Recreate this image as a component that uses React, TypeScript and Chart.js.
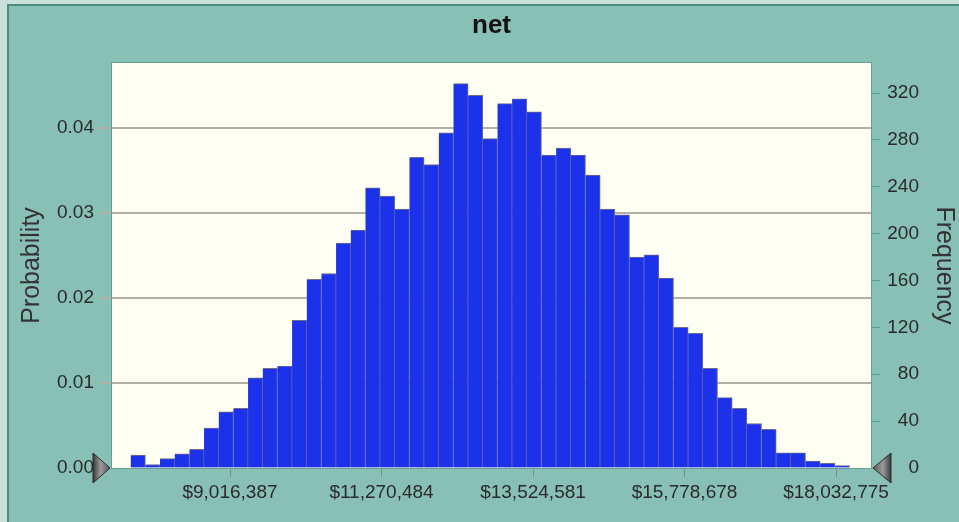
import React, { useEffect, useRef } from 'react';
import { Chart, registerables } from 'chart.js';

Chart.register(...registerables);

const chartTitle = 'net';
const leftAxisTitle = 'Probability';
const rightAxisTitle = 'Frequency';

// histogram bins (lower edge of first bin and bin width, in $)
const binStart = 7538990;
const binWidth = 218270;

// frequency of each bin
const frequencies = [
  11, 3, 8, 12, 16, 34, 48, 51, 77, 85,
  87, 126, 161, 166, 192, 203, 239, 232, 221, 265,
  259, 286, 328, 318, 281, 311, 315, 304, 267, 273,
  267, 250, 221, 216, 180, 182, 162, 120, 115, 85,
  60, 51, 38, 33, 13, 13, 6, 4, 2,
];

const xTickValues = [9016387, 11270484, 13524581, 15778678, 18032775];
const xRange = [7260700, 18553500];
const probabilityRange = [0, 0.0476];
const probabilityStep = 0.01;
const frequencyRange = [0, 345.6];
const frequencyStep = 40;

const FONT = "'Liberation Sans', Arial, sans-serif";
const TEXT = '#2a2a2a';

export default function App() {
  const ref = useRef<HTMLCanvasElement>(null);

  useEffect(() => {
    const canvas = ref.current;
    if (!canvas) return;

    const data = frequencies.map((f, i) => ({ x: binStart + binWidth * (i + 0.5), y: f }));

    const framePlugin = {
      id: 'frame',
      beforeDraw(chart: any) {
        const { ctx, width, height, chartArea: a } = chart;
        ctx.save();
        ctx.fillStyle = '#C9DFDA';
        ctx.fillRect(0, 0, width, height);
        ctx.fillStyle = '#4F8C80';
        ctx.fillRect(7, 4, width - 7, height - 4);
        ctx.fillStyle = '#88C0B5';
        ctx.fillRect(9, 6, width - 9, height - 6);
        ctx.fillStyle = '#FEFEF2';
        ctx.fillRect(a.left, a.top, a.right - a.left, a.bottom - a.top);
        ctx.restore();
      },
      afterDraw(chart: any) {
        const { ctx, chartArea: a } = chart;
        ctx.save();
        // plot border
        ctx.strokeStyle = '#63A196';
        ctx.lineWidth = 1;
        ctx.strokeRect(a.left - 0.5, a.top - 0.5, a.right - a.left + 1, a.bottom - a.top + 1);

        // title
        ctx.fillStyle = '#111';
        ctx.font = `bold 26px ${FONT}`;
        ctx.textAlign = 'center';
        ctx.textBaseline = 'alphabetic';
        ctx.fillText(chartTitle, (a.left + a.right) / 2, 33);

        // right axis title
        ctx.save();
        ctx.translate(944, (a.top + a.bottom) / 2);
        ctx.rotate(Math.PI / 2);
        ctx.fillStyle = '#333';
        ctx.font = `25px ${FONT}`;
        ctx.textAlign = 'center';
        ctx.textBaseline = 'middle';
        ctx.fillText(rightAxisTitle, 0, 0);
        ctx.restore();

        // slider triangles at zero
        const drawTri = (pts: number[][], x0: number, x1: number) => {
          const g = ctx.createLinearGradient(x0, 0, x1, 0);
          g.addColorStop(0, '#3a3a3a');
          g.addColorStop(0.45, '#9a9a9a');
          g.addColorStop(1, '#5a5a5a');
          ctx.beginPath();
          ctx.moveTo(pts[0][0], pts[0][1]);
          ctx.lineTo(pts[1][0], pts[1][1]);
          ctx.lineTo(pts[2][0], pts[2][1]);
          ctx.closePath();
          ctx.fillStyle = g;
          ctx.fill();
          ctx.strokeStyle = '#2a2a2a';
          ctx.lineWidth = 1;
          ctx.stroke();
        };
        const y0 = a.bottom;
        drawTri([[a.left - 19, y0 - 15], [a.left - 19, y0 + 15], [a.left - 2, y0]], a.left - 19, a.left - 2);
        drawTri([[a.right + 20, y0 - 15], [a.right + 20, y0 + 15], [a.right + 2, y0]], a.right + 20, a.right + 2);
        ctx.restore();
      },
    };

    const chart = new Chart(canvas, {
      type: 'bar',
      data: {
        datasets: [
          {
            data,
            xAxisID: 'x',
            yAxisID: 'yFreq',
            backgroundColor: '#1B31EA',
            borderColor: '#6B6B8E',
            borderWidth: { top: 1, right: 1, bottom: 0, left: 0 },
            borderSkipped: false,
            barPercentage: 1,
            categoryPercentage: 1,
          } as any,
        ],
      },
      options: {
        animation: false,
        responsive: false,
        devicePixelRatio: 1,
        layout: { padding: { top: 63, left: 0, right: 40, bottom: 0 } },
        plugins: {
          legend: { display: false },
          tooltip: { enabled: false },
          title: { display: false },
        },
        scales: {
          x: {
            type: 'linear',
            min: xRange[0],
            max: xRange[1],
            offset: false,
            grid: {
              offset: false,
              drawOnChartArea: false,
              drawTicks: true,
              tickLength: 9,
              color: '#7C8C88',
              lineWidth: 1,
            },
            border: { display: false },
            afterBuildTicks: (s: any) => {
              s.ticks = xTickValues.map((v) => ({ value: v }));
            },
            afterFit: (s: any) => {
              s.height = 54;
            },
            ticks: {
              autoSkip: false,
              maxRotation: 0,
              padding: 4,
              color: TEXT,
              font: { size: 19, family: FONT },
              callback: (v: any) => '$' + Number(v).toLocaleString('en-US'),
            },
          } as any,
          yProb: {
            type: 'linear',
            position: 'left',
            min: probabilityRange[0],
            max: probabilityRange[1],
            ticks: {
              stepSize: probabilityStep,
              includeBounds: false,
              padding: 6,
              color: TEXT,
              font: { size: 19, family: FONT },
              callback: (v: any) => Number(v).toFixed(2),
            },
            grid: {
              color: (c: any) => (c.tick && Math.abs(c.tick.value) < 1e-9 ? 'rgba(0,0,0,0)' : '#B3B1A7'),
              lineWidth: 2,
              tickLength: 12,
              drawOnChartArea: true,
            },
            border: { display: false },
            title: {
              display: true,
              text: leftAxisTitle,
              color: '#333',
              font: { size: 25, family: FONT },
              padding: { top: 17, bottom: 0 },
            },
            afterFit: (s: any) => {
              s.width = 112;
            },
          } as any,
          yFreq: {
            type: 'linear',
            position: 'right',
            min: frequencyRange[0],
            max: frequencyRange[1],
            ticks: {
              stepSize: frequencyStep,
              includeBounds: false,
              padding: 7,
              crossAlign: 'far',
              color: TEXT,
              font: { size: 19, family: FONT },
            },
            grid: {
              drawOnChartArea: false,
              tickLength: 9,
              color: '#5E9A90',
              lineWidth: 1,
            },
            border: { display: false },
            title: { display: false },
            afterFit: (s: any) => {
              s.width = 48;
            },
          } as any,
        },
      },
      plugins: [framePlugin],
    });

    return () => chart.destroy();
  }, []);

  return (
    <div style={{ position: 'fixed', left: 0, top: 0, width: 959, height: 522 }}>
      <canvas ref={ref} width={959} height={522} style={{ display: 'block', width: 959, height: 522 }} />
    </div>
  );
}
